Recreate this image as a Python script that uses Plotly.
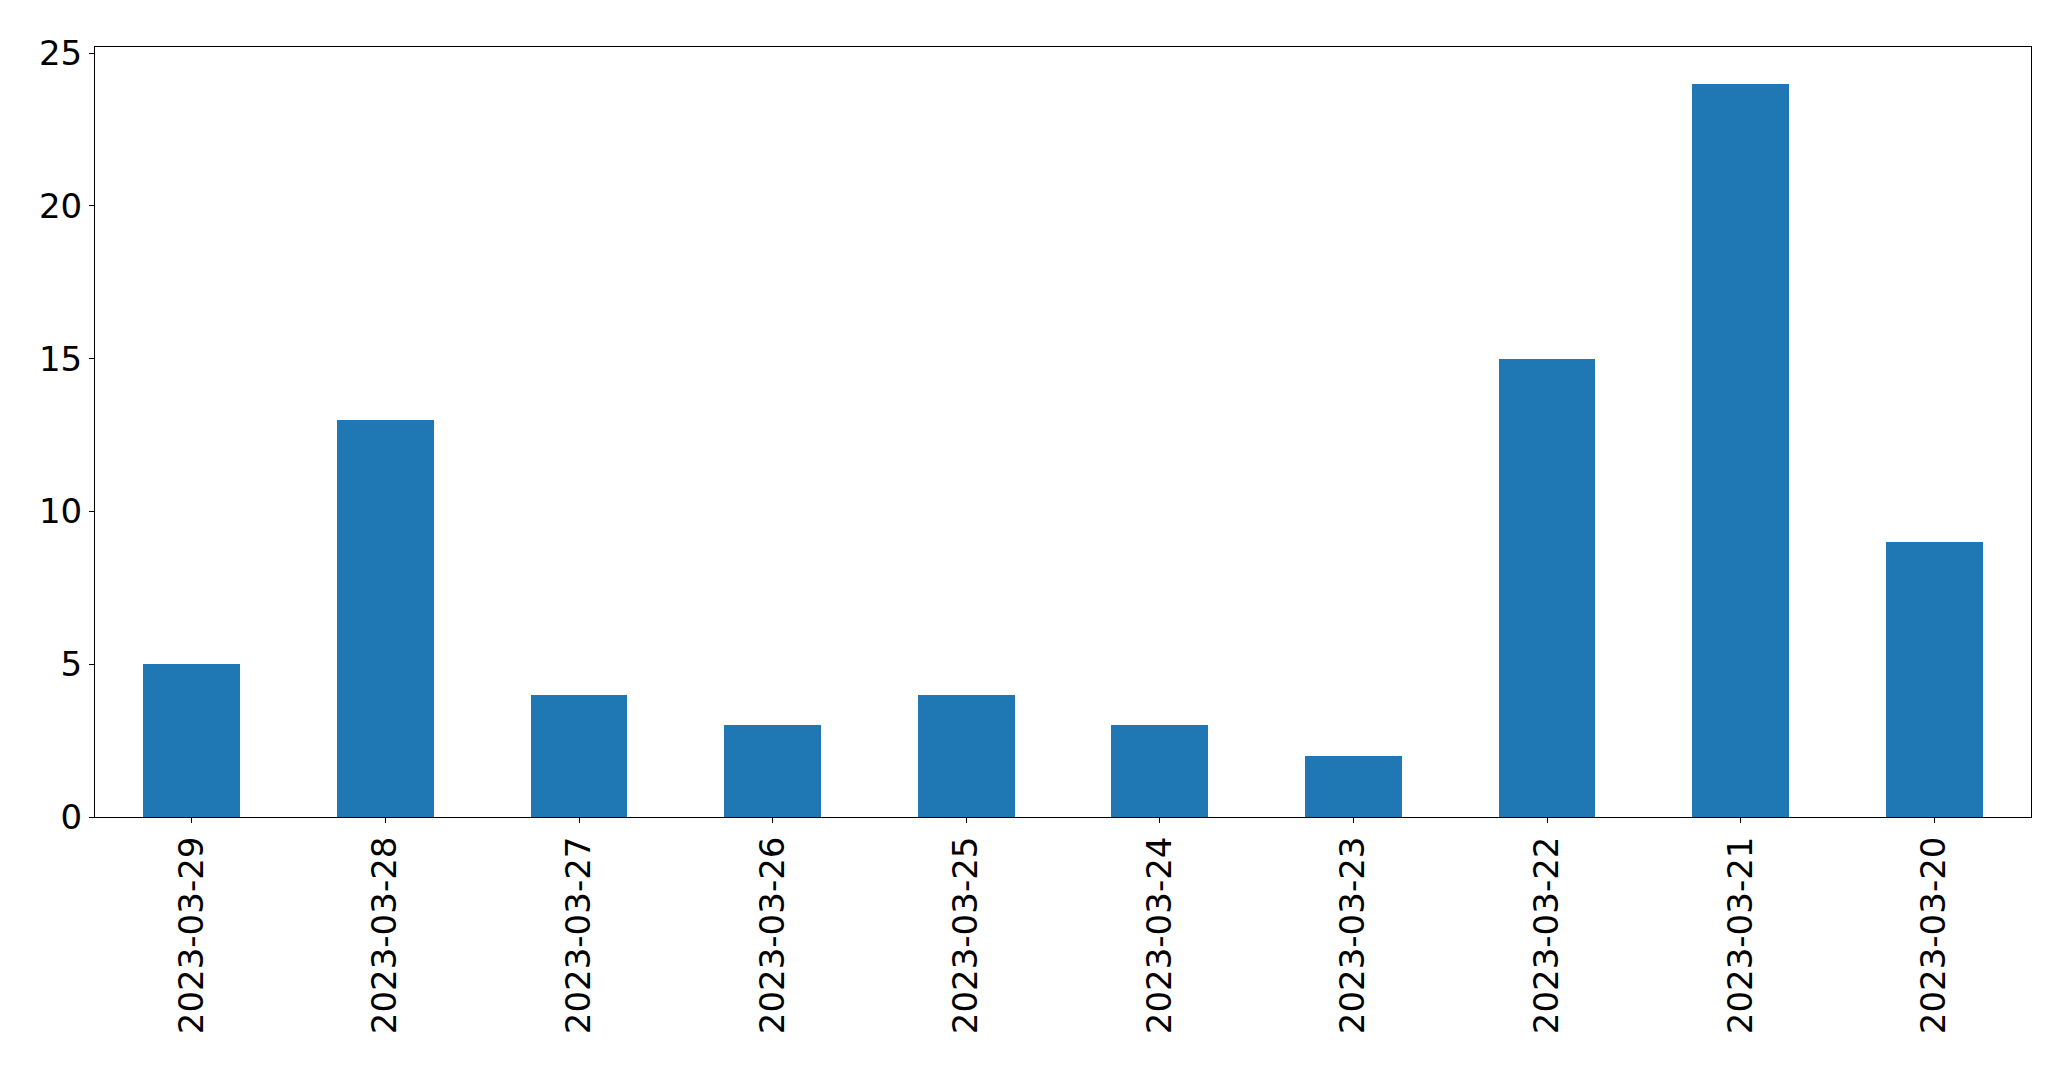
import plotly.graph_objects as go

dates = ["2023-03-29", "2023-03-28", "2023-03-27", "2023-03-26", "2023-03-25",
         "2023-03-24", "2023-03-23", "2023-03-22", "2023-03-21", "2023-03-20"]
counts = [5, 13, 4, 3, 4, 3, 2, 15, 24, 9]
y_ticks = [0, 5, 10, 15, 20, 25]

fig = go.Figure()
fig.add_trace(go.Bar(x=list(range(len(dates))), y=counts, width=0.5,
                     marker=dict(color="#1f77b4", line=dict(width=0))))

font = dict(family="DejaVu Sans", size=34, color="black")
fig.update_layout(
    width=2071, height=1069,
    margin=dict(l=95, r=40, t=47, b=252),
    plot_bgcolor="white", paper_bgcolor="white",
    showlegend=False,
    font=font,
    bargap=0,
)
fig.update_xaxes(
    range=[-0.5, len(dates) - 0.5],
    tickmode="array", tickvals=list(range(len(dates))), ticktext=dates,
    tickangle=-90, ticks="outside", ticklen=5, tickwidth=1, tickcolor="black",
    showline=True, linecolor="black", linewidth=1, mirror=True,
    showgrid=False, zeroline=False, tickfont=font,
)
fig.update_yaxes(
    range=[0, 25.2],
    tickmode="array", tickvals=y_ticks,
    ticks="outside", ticklen=5, tickwidth=1, tickcolor="black",
    showline=True, linecolor="black", linewidth=1, mirror=True,
    showgrid=False, zeroline=False, tickfont=font,
)
fig.write_html("out.html")
